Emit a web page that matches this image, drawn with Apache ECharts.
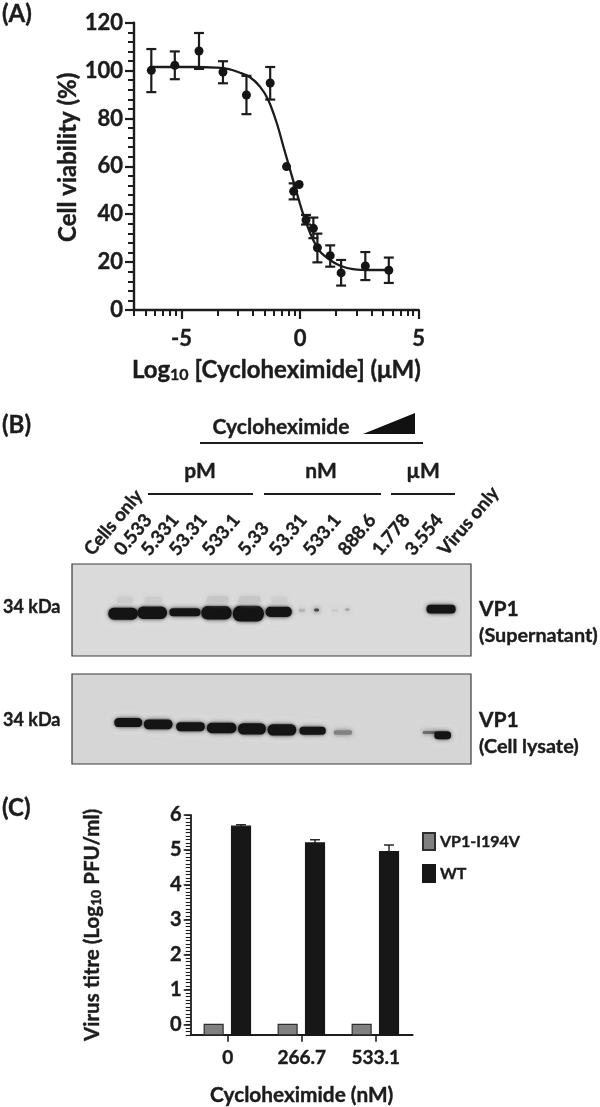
<!DOCTYPE html>
<html><head><meta charset="utf-8">
<style>html,body{margin:0;padding:0;background:#fff}#c{width:600px;height:1107px}</style>
<script src="https://cdn.jsdelivr.net/npm/echarts@6/dist/echarts.min.js"></script>
</head><body><div id="c"></div>
<script>
// ---- Panel A data
const logDose   = [-6.27,-5.28,-4.26,-3.25,-2.26,-1.26,-0.57,-0.27,-0.04,0.25,0.56,0.73,1.27,1.73,2.75,3.74];
const viability = [100.1,102.2,108.2,99.4,89.8,94.8,59.9,49.6,52.4,37.6,34.1,26,22.7,15.5,18.4,16.6];
const viabHigh  = [109,108,115.7,103.9,97.8,101.5,null,52.9,null,39.7,38.6,31.9,27,20.9,24.2,21.9];
const viabLow   = [91,96.4,100.7,94.7,81.8,87.9,null,46.2,null,35.7,30,19.9,18.1,10.2,12.5,11.3];
const curveX = [-6.27,-5.5,-4.5,-3.5,-3,-2.53,-2.11,-1.69,-1.34,-0.98,-0.70,-0.42,-0.14,0.14,0.49,0.84,1.26,1.69,2.23,3.08,3.74];
const curveY = [101.5,101.5,101.5,101.2,100.6,99.1,97.2,93.3,87.7,78,68.2,58.5,48.9,39.7,30.6,24.4,20.9,18.5,17.1,16.7,16.7];
const aXTicks = [-5,0,5];
const aXMinor = [-6.99,-6.51,-6.11,-5.77,-5.48,-5.23,-3.49,-2.61,-1.99,-1.51,-1.11,-0.77,-0.48,-0.23,1.51,2.39,3.01,3.49,3.89,4.23,4.52,4.77];
// ---- Panel B data: band centre along membrane (%), migration (%), width (%), thickness (%), darkness 0-1
const supPos   = [12.8,20.1,28.3,36.2,44.2,51.8,57.6,61.3,65.9,69,92.5, 13.2,20.4,36.5,44.5,52];
const supMig   = [54,53,52.5,53,54,52,50.5,50,50.5,49.5,49, 39,39,39,39,39];
const supWidth = [7.4,7.4,7.8,7.6,7.8,6.6,1.6,1.2,1.6,1.1,7.3, 4,4.5,5.5,5.5,4];
const supThick = [13,13.5,8.8,14.5,17,11,3.5,3.5,3,3,9.5, 7,7,8,8,7];
const supDark  = [1,1,1,1,1,1,0.18,0.75,0.08,0.25,1, 0.07,0.07,0.1,0.1,0.06];
const lysPos   = [14.1,21.6,29.7,37.5,45.1,52.6,60.3,67.9,89.7,92.9];
const lysMig   = [54,56,58.5,60,61,62,63,65,65,68];
const lysWidth = [7,7.2,7.2,7.4,7,7.2,6.6,4.6,3.6,4.2];
const lysThick = [10,11,10,11.5,12.5,12.5,9,5,3.5,9];
const lysDark  = [1,1,1,1,1,1,1,0.45,0.55,1];
const laneLabels = ['Cells only','0.533','5.331','53.31','533.1','5.33','53.31','533.1','888.6','1.778','3.554','Virus only'];
const laneStartX = [88,118,145,173,206,242,273,307,342,376,409,442];
const laneStartY = [553,553,553,553,553,553,553,553,553,553,553,553];
// ---- Panel C data
const doses   = ['0','266.7','533.1'];
const mutant  = [0,0,0];
const wt      = [5.68,5.2,4.95];
const wtHigh  = [5.72,5.29,5.14];
const cYTicks = [0,1,2,3,4,5,6];

const FONT='Lato', INK='#1c1c1c', HEFT=0.4;
const chart = echarts.init(document.getElementById('c'),null,{renderer:'canvas'});
const rows = (...a)=>a[0].map((_,i)=>a.map(v=>v[i]));
const heavy=(size)=>({fontFamily:FONT,fontWeight:'bold',fontSize:size,color:INK,textBorderColor:INK,textBorderWidth:HEFT});

function haloSeries(x,y,pos,mig,wid,thi,dark){
  return {type:'custom',xAxisIndex:x,yAxisIndex:y,silent:true,data:rows(pos,mig,wid,thi,dark),
    encode:{x:0,y:1},clip:true,z:1,
    renderItem(p,api){
      if(api.value(4)<0.9) return null;
      const c=api.coord([api.value(0),api.value(1)]);
      const s=api.size([api.value(2),api.value(3)]);
      return {type:'rect',shape:{x:c[0]-s[0]/2-3,y:c[1]-s[1]/2-3,width:s[0]+6,height:s[1]+6,r:7},
        style:{fill:'rgba(240,240,240,0.7)',shadowBlur:7,shadowColor:'rgba(240,240,240,0.9)'}};
    }};
}
function bandSeries(x,y,pos,mig,wid,thi,dark){
  return {type:'custom',xAxisIndex:x,yAxisIndex:y,silent:true,data:rows(pos,mig,wid,thi,dark),
    encode:{x:0,y:1},clip:true,z:2,
    renderItem(p,api){
      const c=api.coord([api.value(0),api.value(1)]);
      const s=api.size([api.value(2),api.value(3)]);
      const d=api.value(4);
      const g=Math.round(218-(218-20)*d);
      const col=`rgb(${g},${g},${g})`;
      return {type:'rect',shape:{x:c[0]-s[0]/2,y:c[1]-s[1]/2,width:s[0],height:s[1],r:s[1]*0.46},
        style:{fill:col,shadowBlur:5,shadowColor:col}};
    }};
}
function errorSeries(){
  return {type:'custom',xAxisIndex:0,yAxisIndex:0,silent:true,
    data:rows(logDose,viabLow,viabHigh).filter(r=>r[1]!=null),encode:{x:0,y:[1,2]},z:3,
    renderItem(p,api){
      const a=api.coord([api.value(0),api.value(1)]),b=api.coord([api.value(0),api.value(2)]);
      const st={stroke:INK,lineWidth:2.2,fill:null};
      return {type:'group',children:[
        {type:'line',shape:{x1:a[0],y1:a[1],x2:b[0],y2:b[1]},style:st},
        {type:'line',shape:{x1:a[0]-5,y1:a[1],x2:a[0]+5,y2:a[1]},style:st},
        {type:'line',shape:{x1:b[0]-5,y1:b[1],x2:b[0]+5,y2:b[1]},style:st}]};
    }};
}
function barSeries(name,vals,high,color,border,offset){
  return {type:'custom',name,xAxisIndex:4,yAxisIndex:4,silent:true,
    itemStyle:{color,borderColor:border,borderWidth:1.2},
    data:rows(doses.map((_,i)=>i),vals,high),encode:{x:0,y:1},z:3,clip:false,
    renderItem(p,api){
      const t=api.coord([api.value(0),api.value(1)]),b=api.coord([api.value(0),-0.3]);
      const unit=api.size([1,0])[0],w=unit*0.256,cx=t[0]+unit*offset;
      const kids=[{type:'rect',shape:{x:cx-w/2,y:t[1],width:w,height:b[1]-t[1]},style:{fill:color,stroke:border,lineWidth:1.2}}];
      if(api.value(2)>api.value(1)){
        const h=api.coord([api.value(0),api.value(2)]);
        const st={stroke:INK,lineWidth:1.4,fill:null};
        kids.push({type:'line',shape:{x1:cx,y1:t[1],x2:cx,y2:h[1]},style:st},
                  {type:'line',shape:{x1:cx-5,y1:h[1],x2:cx+5,y2:h[1]},style:st});
      }
      return {type:'group',children:kids};
    }};
}
const hiddenX=(g,min,max)=>({type:'value',gridIndex:g,min,max,show:false});
const txt=(text,x,y,size,extra={})=>({type:'text',x,y,rotation:extra.rotation||0,silent:true,z:20,
  style:{text,fill:INK,stroke:INK,lineWidth:HEFT,font:`bold ${size}px ${FONT}`,textAlign:extra.align||'left',textVerticalAlign:'middle'}});
const rule=(x1,x2,y)=>({type:'line',silent:true,z:20,shape:{x1,y1:y,x2,y2:y},style:{stroke:INK,lineWidth:2}});
const deg=Math.PI/180;

const graphics=[
  txt('(A)',2,14,24), txt('(B)',2,425,24), txt('(C)',2,808,24),
  txt('Cycloheximide',281,427,21,{align:'center'}),
  {type:'polygon',silent:true,z:20,shape:{points:[[363,434],[415,413],[415,434]]},style:{fill:'#111'}},
  rule(200,423,443),
  txt('pM',200,471,21,{align:'center'}),txt('nM',321,471,21,{align:'center'}),txt('µM',423,471,21,{align:'center'}),
  rule(148,253,494),rule(264,381,494),rule(391,455,494),
  ...laneLabels.map((l,i)=>txt(l,laneStartX[i],laneStartY[i],18.5,{rotation:50*deg})),
  txt('34 kDa',3,607,18), txt('34 kDa',3,720,18),
  txt('VP1',479,609,21), txt('(Supernatant)',479,636,19.8),
  txt('VP1',479,720,21), txt('(Cell lysate)',479,747,19.8)
];

chart.setOption({
  backgroundColor:'#fff',animation:false,
  textStyle:{fontFamily:FONT,color:INK},
  grid:[
    {left:134,top:22.7,width:284.7,height:287.3},
    {left:72,top:564,width:399,height:92,show:true,backgroundColor:'#dadada',borderColor:'#3a3a3a',borderWidth:1.2,z:0},
    {left:72,top:674,width:399,height:90,show:true,backgroundColor:'#d6d6d6',borderColor:'#3a3a3a',borderWidth:1.2,z:0},
    {left:190.7,top:815,width:222,height:221.7}
  ],
  xAxis:[
    {type:'value',gridIndex:0,min:-7,max:5,position:'bottom',splitLine:{show:false},
     axisLine:{show:true,onZero:false,lineStyle:{color:INK,width:2.4}},
     axisTick:{show:true,customValues:aXTicks,length:9,lineStyle:{color:INK,width:2.2}},
     axisLabel:{customValues:aXTicks,...heavy(22),margin:18,formatter:v=>String(v)},
     name:'{a|Log}{s|10}{a| [Cycloheximide] (μM)}',nameLocation:'middle',nameGap:47,
     nameTextStyle:{rich:{a:heavy(24),s:{...heavy(16),padding:[10,0,0,0]}}}},
    {type:'value',gridIndex:0,min:-7,max:5,position:'bottom',splitLine:{show:false},axisLabel:{show:false},
     axisLine:{show:false,onZero:false},axisTick:{show:true,customValues:aXMinor,length:6,lineStyle:{color:INK,width:2}}},
    hiddenX(1,0,100),hiddenX(2,0,100),
    {type:'category',gridIndex:3,data:doses,position:'bottom',
     axisLine:{show:true,onZero:false,lineStyle:{color:INK,width:1.8}},
     axisTick:{show:true,alignWithLabel:true,length:7,lineStyle:{color:INK,width:1.6}},
     axisLabel:{...heavy(19),margin:14},
     name:'Cycloheximide (nM)',nameLocation:'middle',nameGap:50,
     nameTextStyle:heavy(20.8)}
  ],
  yAxis:[
    {type:'value',gridIndex:0,min:0,max:120,interval:20,position:'left',splitLine:{show:false},
     axisLine:{show:true,onZero:false,lineStyle:{color:INK,width:2.4}},axisTick:{show:true,length:9,lineStyle:{color:INK,width:2.2}},
     minorTick:{show:true,splitNumber:5,length:6,lineStyle:{color:INK,width:2}},minorSplitLine:{show:false},
     axisLabel:{...heavy(22),margin:11},
     name:'Cell viability (%)',nameLocation:'middle',nameGap:47,
     nameTextStyle:{...heavy(24),padding:[0,0,0,18]}},
    {type:'value',gridIndex:0,min:0,max:120,show:false},
    {type:'value',gridIndex:1,min:0,max:100,inverse:true,show:false},
    {type:'value',gridIndex:2,min:0,max:100,inverse:true,show:false},
    {type:'value',gridIndex:3,min:-0.3,max:6,position:'left',splitLine:{show:false},
     axisLine:{show:true,onZero:false,lineStyle:{color:INK,width:1.8}},
     axisTick:{show:true,customValues:cYTicks,length:7,lineStyle:{color:INK,width:1.6}},
     axisLabel:{customValues:cYTicks,...heavy(20),margin:9,formatter:v=>String(v)},
     name:'{a|Virus titre (Log}{s|10}{a| PFU/ml)}',nameLocation:'middle',nameGap:87,
     nameTextStyle:{rich:{a:heavy(20.5),s:{...heavy(14),padding:[9,0,0,0]}}}},
    {type:'value',gridIndex:3,min:-0.3,max:6,interval:0.1,position:'left',splitLine:{show:false},axisLabel:{show:false},
     axisLine:{show:false,onZero:false},axisTick:{show:true,length:5,lineStyle:{color:INK,width:1.1}}}
  ],
  legend:{show:true,data:['VP1-I194V','WT'],orient:'vertical',left:422,top:832,itemWidth:12,itemHeight:17,itemGap:13,
    icon:'rect',selectedMode:false,textStyle:{...heavy(16)},padding:0},
  series:[
    {type:'line',name:'Fit',xAxisIndex:0,yAxisIndex:0,data:rows(curveX,curveY),smooth:0.3,showSymbol:false,silent:true,
     lineStyle:{color:INK,width:2.3},z:2},
    errorSeries(),
    {type:'scatter',name:'Viability',xAxisIndex:0,yAxisIndex:0,data:rows(logDose,viability),symbolSize:9,silent:true,itemStyle:{color:'#151515',opacity:1},z:4},
    {type:'line',xAxisIndex:1,yAxisIndex:1,data:[],silent:true},
    haloSeries(2,2,supPos,supMig,supWidth,supThick,supDark),
    bandSeries(2,2,supPos,supMig,supWidth,supThick,supDark),
    haloSeries(3,3,lysPos,lysMig,lysWidth,lysThick,lysDark),
    bandSeries(3,3,lysPos,lysMig,lysWidth,lysThick,lysDark),
    barSeries('VP1-I194V',mutant,mutant,'#808080','#2e2e2e',-0.19),
    barSeries('WT',wt,wtHigh,'#171717','#171717',0.18),
    {type:'line',xAxisIndex:4,yAxisIndex:5,data:[],silent:true}
  ],
  graphic:{elements:graphics}
});
</script></body></html>
